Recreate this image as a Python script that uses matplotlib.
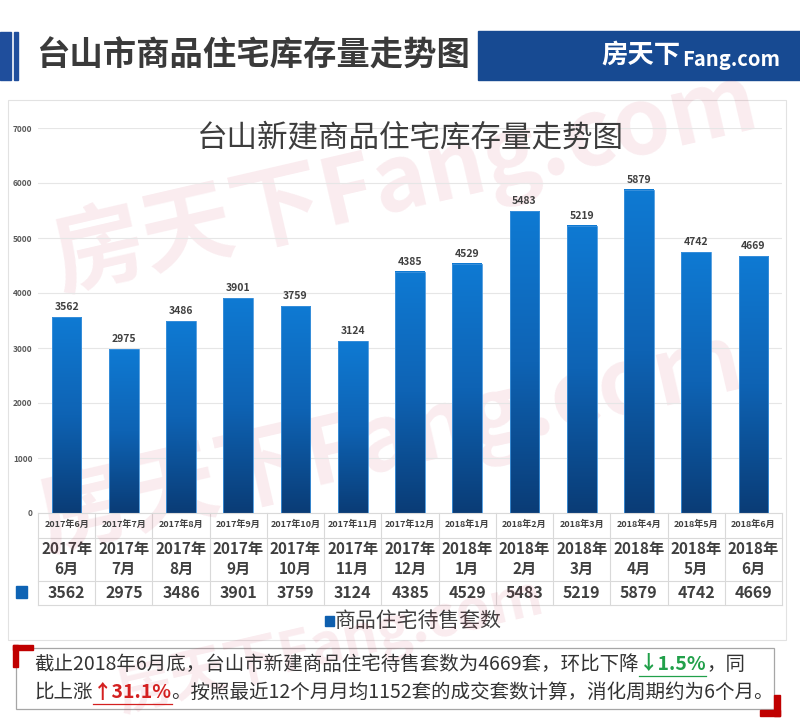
import numpy as np
import matplotlib
matplotlib.use("Agg")
import matplotlib.pyplot as plt
from matplotlib import transforms
from matplotlib.patches import Rectangle

plt.rcParams['font.family'] = ['Noto Sans CJK SC', 'DejaVu Sans']

months = ['2017年6月', '2017年7月', '2017年8月', '2017年9月', '2017年10月', '2017年11月',
          '2017年12月', '2018年1月', '2018年2月', '2018年3月', '2018年4月', '2018年5月', '2018年6月']
stock = [3562, 2975, 3486, 3901, 3759, 3124, 4385, 4529, 5483, 5219, 5879, 4742, 4669]
yticks = [0, 1000, 2000, 3000, 4000, 5000, 6000, 7000]
series_name = '商品住宅待售套数'

W, H = 800, 728
fig = plt.figure(figsize=(W / 100, H / 100), dpi=100)
fig.patch.set_facecolor('white')

def box(l, t, r, b):
    return [l / W, 1 - b / H, (r - l) / W, (b - t) / H]

# overlay in pixel coords for decorations
ov = fig.add_axes([0, 0, 1, 1], zorder=0)
ov.set_xlim(0, W)
ov.set_ylim(H, 0)
ov.axis('off')

# header
ov.add_patch(Rectangle((0, 32), 11, 48, color='#1f4e9c'))
ov.add_patch(Rectangle((14, 32), 4, 48, color='#1f4e9c'))
ov.text(36, 56, '台山市商品住宅库存量走势图', fontsize=24, fontweight='bold',
        color='#3a3a3a', va='center', ha='left')
ov.add_patch(Rectangle((478, 31), 322, 49, color='#174a92'))
ov.text(601, 55, '房天下', fontsize=19, fontweight='bold', color='white', va='center', ha='left')
ov.text(682, 59, 'Fang.com', fontsize=14.5, fontweight='bold', color='white', va='center', ha='left')

# chart frame
ov.add_patch(Rectangle((8, 100), 778, 540, fill=False, ec='#e2e2e2', lw=0.8))

# main bar axes
ax = fig.add_axes(box(38, 128, 782, 513), zorder=1)
ax.patch.set_alpha(0)
x = np.arange(len(months))
bars = ax.bar(x, stock, width=0.52, color='none', edgecolor='#3f93dc', linewidth=0.6, zorder=3)
grad = np.linspace(0, 1, 256).reshape(-1, 1)
cmap = matplotlib.colors.LinearSegmentedColormap.from_list('b', ['#0a3c76', '#0e63b4', '#0f7ad3'])
for rect in bars:
    x0, w, h = rect.get_x(), rect.get_width(), rect.get_height()
    ax.imshow(grad, extent=(x0, x0 + w, 0, h), origin='lower', aspect='auto', cmap=cmap, zorder=2)
    ax.text(x0 + w / 2, h + 90, f'{int(h)}', ha='center', va='bottom', fontsize=7.5,
            fontweight='bold', color='#404040', zorder=4)
ax.set_xlim(-0.5, len(months) - 0.5)
ax.set_ylim(0, 7000)
ax.set_yticks(yticks)
ax.set_yticklabels([str(v) for v in yticks], fontsize=6, fontweight='bold', color='#595959')
ax.set_xticks(x)
ax.set_xticklabels(months, fontsize=6.5, fontweight='bold', color='#404040')
ax.tick_params(axis='both', length=0)
ax.tick_params(axis='x', pad=5)
ax.tick_params(axis='y', pad=4)
ax.grid(axis='y', color='#e6e6e6', lw=0.8, zorder=0)
for s in ['top', 'right', 'left']:
    ax.spines[s].set_visible(False)
ax.spines['bottom'].set_color('#d9d9d9')

ax.text(0.5, 0.972, '台山新建商品住宅库存量走势图', transform=ax.transAxes, ha='center',
        va='center', fontsize=22, color='#3d3d3d')

# data table below, x from bar axes, y in pixels
tr = transforms.blended_transform_factory(ax.transData, ov.transData)
lx, rx = -0.5, len(months) - 0.5
for yy in [538, 581, 605]:
    ov.plot([lx, rx], [yy, yy], color='#d9d9d9', lw=0.8, transform=tr)
for i in range(len(months) + 1):
    ov.plot([i - 0.5, i - 0.5], [513, 605], color='#d9d9d9', lw=0.8, transform=tr)
for i, (m, v) in enumerate(zip(months, stock)):
    yr, mo = m.split('年')
    ov.text(i, 549, yr + '年', transform=tr, ha='center', va='center', fontsize=11,
            fontweight='bold', color='#404040')
    ov.text(i, 569, mo, transform=tr, ha='center', va='center', fontsize=11,
            fontweight='bold', color='#404040')
    ov.text(i, 593, str(v), transform=tr, ha='center', va='center', fontsize=11.5,
            fontweight='bold', color='#404040')
ov.add_patch(Rectangle((16, 586), 11, 12, color='#0e63b4'))

# legend
ov.add_patch(Rectangle((325, 616), 9, 10, color='#0e5fae'))
ov.text(335, 621, series_name, fontsize=15, color='#404040', va='center', ha='left')

# watermark
for (cx, cy, fs) in [(405, 180, 66), (390, 440, 66), (330, 645, 40)]:
    ov.text(cx, cy, '房天下Fang.com', fontsize=fs, fontweight='bold', color='#c8284a',
            alpha=0.09, rotation=13, ha='center', va='center', zorder=10)

# bottom summary box
ov.add_patch(Rectangle((16, 648), 758, 61, fill=False, ec='#a6a6a6', lw=0.9))
ov.add_patch(Rectangle((13, 645), 20, 5, color='#c00000'))
ov.add_patch(Rectangle((13, 645), 5, 22, color='#c00000'))
ov.add_patch(Rectangle((760, 710), 20, 6, color='#c00000'))
ov.add_patch(Rectangle((774, 695), 6, 21, color='#c00000'))

fig.canvas.draw()
renderer = fig.canvas.get_renderer()

def write_line(parts, x0, y):
    xx = x0
    for txt, col, bold in parts:
        t = ov.text(xx, y, txt, fontsize=14, color=col, va='center', ha='left',
                    fontweight='bold' if bold else 'normal', zorder=12)
        bb = t.get_window_extent(renderer)
        if bold:
            ov.plot([xx, xx + bb.width], [y + 12, y + 12], color=col, lw=0.9, zorder=12)
        xx += bb.width

write_line([('截止2018年6月底，台山市新建商品住宅待售套数为4669套，环比下降', '#333333', False),
            ('↓1.5%', '#21a04a', True),
            ('，同', '#333333', False)], 34, 664)
write_line([('比上涨', '#333333', False),
            ('↑31.1%', '#d42020', True),
            ('。按照最近12个月月均1152套的成交套数计算，消化周期约为6个月。', '#333333', False)], 34, 692)

fig.savefig('out.png', dpi=100)
